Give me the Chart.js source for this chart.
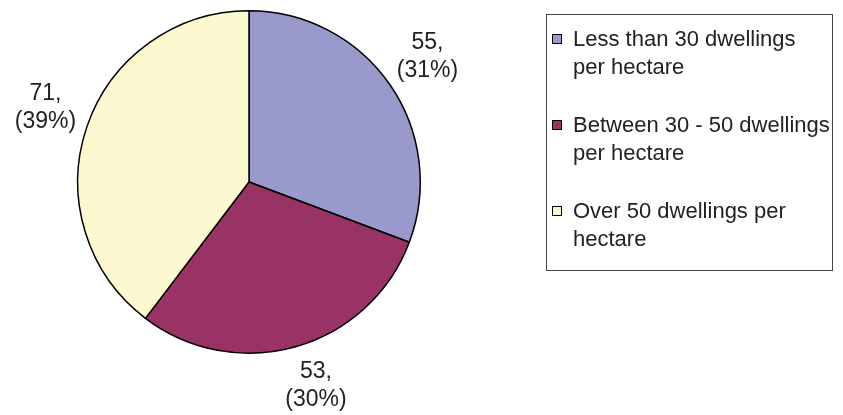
<!DOCTYPE html>
<html>
<head>
<meta charset="utf-8">
<script src="https://cdn.jsdelivr.net/npm/chart.js@4/dist/chart.umd.min.js"></script>
<style>
  html, body { margin: 0; padding: 0; background: #fff; }
  body { width: 843px; height: 415px; position: relative; overflow: hidden;
         font-family: Arial, "Liberation Sans", sans-serif; }
  #chart { position: absolute; left: 0; top: 0; }
  #legend { position: absolute; left: 546px; top: 14px; width: 287px; height: 257px;
            border: 1px solid #444; box-sizing: border-box; padding-top: 10px; }
  .item { display: flex; align-items: flex-start; margin-bottom: 30px; }
  .swatch { width: 8px; height: 8px; border: 1px solid #000; flex: none; margin: 9px 11px 0 5px; }
  .text { font-size: 22px; line-height: 28px; color: #222; white-space: nowrap; }
</style>
</head>
<body>
<canvas id="chart" width="843" height="415"></canvas>
<div id="legend"></div>
<script>
// Dwelling density of sites
const categories = [
  ["Less than 30 dwellings", "per hectare"],
  ["Between 30 - 50 dwellings", "per hectare"],
  ["Over 50 dwellings per", "hectare"]
];
const counts = [55, 53, 71];
const percents = [31, 30, 39];
const colors = ["#9999CC", "#993366", "#FCF9D0"];

const legendEl = document.getElementById("legend");
const canvas = document.getElementById("chart");

// soften the direction so labels near the axes still clear the slice edge
function ease(v) {
  return Math.sign(v) * Math.sqrt(Math.abs(v));
}

// Value labels outside each slice: "55," over "(31%)"
const sliceLabels = {
  id: "sliceLabels",
  afterDatasetsDraw(chart) {
    const ctx = chart.ctx;
    const meta = chart.getDatasetMeta(0);
    const lineH = 28;
    const gap = 12;
    ctx.save();
    ctx.font = '23px Arial, "Liberation Sans", sans-serif';
    ctx.fillStyle = "#222";
    ctx.textAlign = "center";
    ctx.textBaseline = "middle";
    meta.data.forEach((arc, i) => {
      const mid = (arc.startAngle + arc.endAngle) / 2;
      const lines = [counts[i] + ",", "(" + percents[i] + "%)"];
      const w = Math.max(...lines.map(l => ctx.measureText(l).width));
      const h = lines.length * lineH;
      const r = arc.outerRadius + gap;
      const dx = Math.cos(mid), dy = Math.sin(mid);
      const cx = arc.x + dx * r + ease(dx) * w / 2;
      const cy = arc.y + dy * r + ease(dy) * h / 2;
      lines.forEach((l, j) => {
        ctx.fillText(l, cx, cy - h / 2 + lineH * (j + 0.5));
      });
    });
    ctx.restore();
  }
};

const chart = new Chart(canvas, {
  type: "pie",
  data: {
    labels: categories,
    datasets: [{
      data: counts,
      backgroundColor: colors,
      borderColor: "#000",
      borderWidth: 1.5
    }]
  },
  options: {
    responsive: false,
    animation: false,
    devicePixelRatio: 1,
    layout: { padding: { left: 77, right: 422, top: 10, bottom: 61 } },
    plugins: {
      legend: { display: false },
      tooltip: { enabled: false }
    }
  },
  plugins: [sliceLabels]
});

// Boxed legend on the right
categories.forEach((lines, i) => {
  const item = document.createElement("div");
  item.className = "item";
  const sw = document.createElement("div");
  sw.className = "swatch";
  sw.style.background = colors[i];
  const txt = document.createElement("div");
  txt.className = "text";
  txt.innerHTML = lines.join("<br>");
  item.appendChild(sw);
  item.appendChild(txt);
  legendEl.appendChild(item);
});
</script>
</body>
</html>
